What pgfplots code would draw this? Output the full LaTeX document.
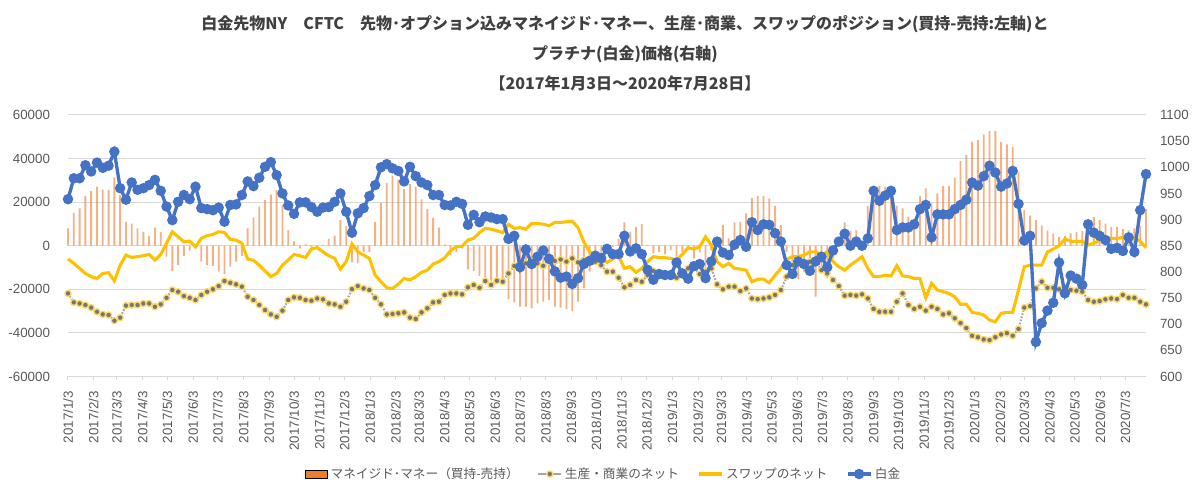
\documentclass[border=0pt]{standalone}
\usepackage{fontspec}
\usepackage{pgfplots}
\usepackage{pgfplotstable}
\pgfplotsset{compat=1.18}
\setmainfont{Liberation Sans}
\newfontfamily\jp{Noto Sans CJK JP}
\definecolor{cOr}{HTML}{ED7D31}
\definecolor{cGr}{HTML}{A5A5A5}
\definecolor{cGd}{HTML}{767676}
\definecolor{cYe}{HTML}{FFC000}
\definecolor{cYl}{HTML}{FFD966}
\definecolor{cBl}{HTML}{4472C4}
\definecolor{cGrid}{HTML}{D9D9D9}
\definecolor{cTxt}{HTML}{595959}
\definecolor{cTtl}{HTML}{404040}
\pgfplotstableread{
w mm pm sw pt
0 7950 -21900 -6100 939
1 15100 -26000 -8100 979
2 17100 -26500 -10400 979
3 22900 -27200 -12700 1004
4 25100 -28400 -14200 992
5 27100 -30300 -15000 1009
6 25800 -31500 -12700 999
7 25500 -31800 -12400 1003
8 31200 -34400 -16100 1030
9 23200 -33000 -8900 960
10 11000 -27500 -4300 938
11 10200 -27200 -5400 971
12 8000 -27200 -5000 957
13 6400 -26500 -4600 960
14 4400 -26500 -4000 966
15 8300 -28000 -6600 976
16 6400 -26900 -4000 955
17 -5000 -23900 1100 925
18 -11600 -20300 6400 899
19 -8900 -21100 4100 934
20 -4600 -23100 1800 947
21 -2300 -23900 2100 939
22 -1000 -24900 -500 963
23 -7300 -22600 3400 922
24 -8900 -21100 4600 920
25 -9300 -20000 5200 918
26 -11900 -18500 6400 923
27 -13000 -16200 6100 896
28 -9600 -17000 2900 928
29 -7300 -17700 2600 929
30 -4700 -18800 1100 947
31 8000 -23400 -6100 973
32 13000 -24900 -6700 964
33 17900 -27200 -8900 980
34 20900 -29500 -11600 1001
35 23500 -31500 -14200 1010
36 25500 -32600 -12700 985
37 18700 -29800 -8900 950
38 7200 -24900 -6600 927
39 2100 -23700 -4000 911
40 -1200 -23900 -4600 933
41 600 -24900 -5400 933
42 -500 -25200 -1500 924
43 -500 -24200 -900 915
44 300 -24600 -2800 923
45 3100 -26500 -4600 924
46 4600 -26900 -5800 934
47 11800 -28000 -10700 950
48 9000 -25700 -7300 915
49 -7600 -19900 800 875
50 -8100 -18500 -2800 912
51 -2800 -19600 -4300 922
52 -2800 -20300 -5800 945
53 11000 -23900 -13500 966
54 19700 -26900 -16500 1000
55 28900 -31500 -19300 1006
56 32100 -31300 -19600 998
57 30100 -31000 -17600 993
58 26000 -30600 -15000 973
59 28300 -33000 -15700 1001
60 27100 -33600 -14200 983
61 21300 -30600 -12200 971
62 16800 -28700 -11200 966
63 12800 -26000 -8400 947
64 8300 -25700 -7300 947
65 600 -22600 -5500 928
66 -4300 -21900 -2300 927
67 -2800 -21900 -500 934
68 -1200 -22300 -200 930
69 -10900 -19100 2600 890
70 -11500 -18000 3400 909
71 -13800 -19300 6000 895
72 -15000 -16200 8000 906
73 -16000 -18000 7600 904
74 -15500 -16100 6900 901
75 -17000 -16500 6000 901
76 -24600 -12700 9800 863
77 -26000 -9300 8000 869
78 -28000 -8100 8300 809
79 -28000 -8100 7600 843
80 -28700 -7300 10200 815
81 -26500 -8100 10200 829
82 -25700 -9200 9900 841
83 -24900 -7300 9200 825
84 -28000 -7000 10700 801
85 -28400 -6300 10700 789
86 -29000 -7300 11000 791
87 -30000 -5800 11300 777
88 -25700 -7600 8300 788
89 -19600 -6600 1800 815
90 -11900 -6100 -2800 821
91 -8100 -7300 -5000 831
92 -6100 -8900 -6100 826
93 -2800 -11900 -7600 844
94 -500 -11900 -6100 834
95 3000 -14700 -4600 834
96 10700 -19100 -10400 869
97 6400 -18000 -9600 839
98 8700 -15700 -12200 845
99 9900 -16500 -10400 834
100 300 -13500 -7300 804
101 -3500 -11600 -5000 785
102 -2800 -12700 -5400 796
103 -4000 -13500 -5500 794
104 -2000 -13800 -5800 794
105 -5000 -14700 -6600 818
106 -2800 -12700 -4000 797
107 -1200 -10400 -900 787
108 -5800 -9900 -1500 811
109 -3000 -13000 -500 815
110 -17000 -11900 4100 788
111 -2000 -10400 300 820
112 2000 -17700 -7300 858
113 9500 -20000 -9600 837
114 3400 -18800 -8100 832
115 10700 -18800 -10400 852
116 11000 -20800 -10700 861
117 14800 -19600 -11200 848
118 22000 -24200 -16500 895
119 22900 -24500 -15400 880
120 22900 -24200 -15300 891
121 21700 -23700 -17000 890
122 18300 -22600 -13500 874
123 9500 -20300 -10400 858
124 -2800 -14200 -6300 813
125 -10400 -8900 -5000 796
126 -15300 -8100 -5000 820
127 -11900 -8900 -4300 815
128 -9600 -7300 -2800 802
129 -23400 -7300 -2800 820
130 -12700 -11200 -4300 829
131 -15000 -12700 -2800 809
132 -5800 -15700 -7300 841
133 3400 -18500 -9600 858
134 10700 -22900 -11200 873
135 6700 -22600 -8900 850
136 7200 -22900 -7000 858
137 1800 -22300 -5000 850
138 18300 -24200 -10400 864
139 27100 -29000 -14200 955
140 27500 -30300 -14200 936
141 27100 -30300 -13500 946
142 25100 -30300 -13900 955
143 18300 -25700 -9200 880
144 17100 -21900 -13800 885
145 13300 -27200 -14200 885
146 11800 -29000 -15000 891
147 22900 -28000 -15000 920
148 26300 -29800 -23900 928
149 19400 -28000 -17300 866
150 24000 -29000 -20300 910
151 27400 -31500 -21100 910
152 27500 -31000 -21900 910
153 31200 -33300 -23400 920
154 38800 -35500 -26900 928
155 41600 -37800 -26800 938
156 47700 -41300 -30600 971
157 48500 -42000 -31000 965
158 51100 -43000 -31800 983
159 52600 -43300 -34100 1003
160 52600 -42000 -34900 990
161 47700 -40700 -31000 963
162 46500 -40100 -30600 969
163 45400 -41300 -30600 993
164 33900 -38200 -20300 930
165 16400 -28400 -9600 860
166 13800 -27700 -8900 869
167 11800 -19600 -8900 666
168 9200 -16500 -8900 702
169 6900 -19300 -2800 726
170 5700 -19300 -1500 741
171 4100 -20000 0 818
172 4400 -19100 3100 759
173 5700 -20300 2100 793
174 6400 -20600 1800 787
175 6700 -21100 2100 775
176 11000 -24900 300 891
177 13300 -25700 1100 875
178 11800 -25400 2600 869
179 10200 -24600 3400 861
180 8700 -24200 3400 844
181 8700 -24500 3400 846
182 7600 -22600 3800 840
183 7000 -23900 3700 866
184 8000 -23900 3400 838
185 9000 -25700 2100 918
186 16800 -26900 -900 987
}\data
\pgfplotsset{
  common/.style={
    at={(0,0)}, anchor=south west, scale only axis,
    width=808.5pt, height=196.1pt,
    xmin=0, xmax=1302, clip=false,
    scaled y ticks=false, scaled x ticks=false,
    tick label style={font=\fontsize{10}{12}\selectfont, text=cTxt},
  }
}
\begin{document}
\begin{tikzpicture}
\useasboundingbox (-51pt,-90.4pt) rectangle (849pt,282.35pt);
\begin{axis}[common,
  ymin=-60000, ymax=60000,
  ytick={-60000,-40000,-20000,0,20000,40000,60000},
  yticklabels={-60000,-40000,-20000,0,20000,40000,60000},
  ymajorgrids, grid style={draw=cGrid, line width=0.75pt},
  xtick={0,31,59,90,120,151,181,212,243,273,304,334,365,396,424,455,485,516,546,577,608,638,669,699,730,761,789,820,850,881,911,942,973,1003,1034,1064,1095,1126,1155,1186,1216,1247,1277},
  xticklabels={2017/1/3,2017/2/3,2017/3/3,2017/4/3,2017/5/3,2017/6/3,2017/7/3,2017/8/3,2017/9/3,2017/10/3,2017/11/3,2017/12/3,2018/1/3,2018/2/3,2018/3/3,2018/4/3,2018/5/3,2018/6/3,2018/7/3,2018/8/3,2018/9/3,2018/10/3,2018/11/3,2018/12/3,2019/1/3,2019/2/3,2019/3/3,2019/4/3,2019/5/3,2019/6/3,2019/7/3,2019/8/3,2019/9/3,2019/10/3,2019/11/3,2019/12/3,2020/1/3,2020/2/3,2020/3/3,2020/4/3,2020/5/3,2020/6/3,2020/7/3},
  xticklabel style={rotate=90, anchor=east},
  xticklabel shift=4.5pt,
  yticklabel shift=7pt,
  axis x line*=bottom, axis y line*=left,
  x axis line style={draw=cGrid, line width=0.75pt, -},
  y axis line style={draw=none},
  tick align=outside, major tick length=3pt,
  xtick style={draw=cGrid, line width=0.75pt},
  ytick style={draw=none},
]
\addplot[ybar, bar width=1.4pt, fill=cOr, fill opacity=0.6, draw=none] table[x expr=\thisrow{w}*7, y=mm]{\data};
\addplot[color=cGr, line width=1.6pt, dash pattern=on 1.2pt off 1.2pt, mark=*, mark size=2.3pt, mark options={solid, fill=cGd, draw=cYl, line width=1pt}] table[x expr=\thisrow{w}*7, y=pm]{\data};
\addplot[color=cYe, line width=2.3pt, no marks] table[x expr=\thisrow{w}*7, y=sw]{\data};
\end{axis}
\begin{axis}[common,
  ymin=600, ymax=1100,
  ytick={600,650,700,750,800,850,900,950,1000,1050,1100},
  yticklabels={600,650,700,750,800,850,900,950,1000,1050,1100},
  axis x line=none, axis y line*=right,
  y axis line style={draw=none}, ytick style={draw=none},
  yticklabel shift=7pt,
  legend columns=4,
  legend style={at={(0.497,-0.373)}, anchor=center, draw=none, fill=none,
    font=\jp\fontsize{9.5}{12}\selectfont, text=cTxt,
    /tikz/every even column/.append style={column sep=12pt}},
  legend cell align=left,
]
\addlegendimage{area legend, fill=cOr, draw=none}
\addlegendentry{マネイジド･マネー（買持-売持）}
\addlegendimage{color=cGr, line width=1.6pt, mark=*, mark size=2.3pt, mark options={fill=cGd, draw=cYl, line width=1pt}}
\addlegendentry{生産・商業のネット}
\addlegendimage{color=cYe, line width=2.3pt}
\addlegendentry{スワップのネット}
\addplot[color=cBl, line width=2.5pt, mark=*, mark size=2.6pt, mark options={fill=cBl, draw=cBl}] table[x expr=\thisrow{w}*7, y=pt]{\data};
\addlegendentry{白金}
\end{axis}
\node[align=center, font=\jp\bfseries\fontsize{12}{22.5}\selectfont, text=cTtl] at (417.75pt,242.6pt)
 {白金先物NY　CFTC　先物･オプション込みマネイジド･マネー、生産･商業、スワップのポジション(買持-売持:左軸)と\\プラチナ(白金)価格(右軸)\\【2017年1月3日～2020年7月28日】};
\end{tikzpicture}
\end{document}
